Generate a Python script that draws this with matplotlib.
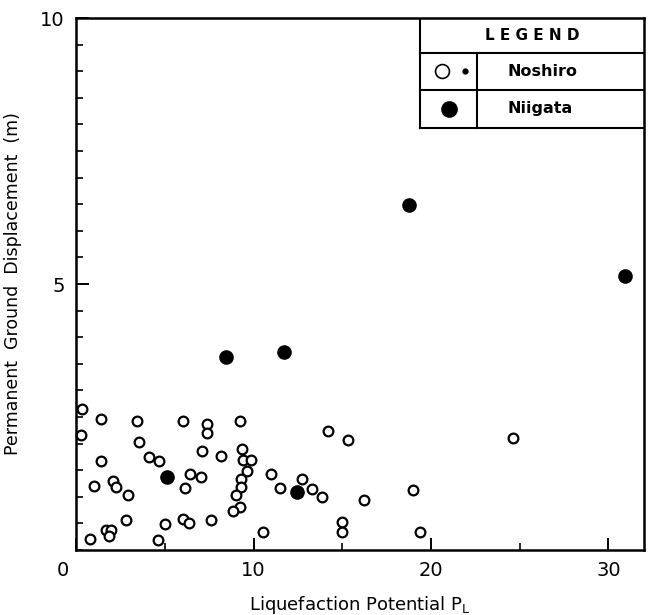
import matplotlib
matplotlib.use("Agg")
import matplotlib.pyplot as plt
from matplotlib.ticker import MultipleLocator
from matplotlib.transforms import ScaledTranslation

# Noshiro sites: liquefaction potential vs. permanent ground displacement (m)
noshiro_pl = [0.32, 1.41, 3.43, 6.04, 0.28, 3.53, 4.12, 4.69, 1.41, 6.40,
              1.03, 2.10, 2.25, 6.13, 2.91, 2.80, 1.67, 1.97, 1.86, 0.79,
              5.01, 6.04, 6.36, 4.63,
              7.39, 7.36, 9.23, 7.07, 8.16, 9.34, 9.41, 9.85, 9.66, 7.03,
              9.32, 9.32, 9.04, 10.97, 12.72, 11.52, 13.30, 9.25, 8.82, 7.58,
              10.52,
              14.20, 15.32, 13.88, 16.21, 19.00, 14.99, 14.99, 19.38,
              24.61]
noshiro_disp = [2.645, 2.46, 2.43, 2.43, 2.16, 2.03, 1.75, 1.67, 1.68, 1.42,
                1.21, 1.30, 1.19, 1.17, 1.04, 0.56, 0.37, 0.38, 0.26, 0.21,
                0.49, 0.58, 0.50, 0.18,
                2.37, 2.20, 2.42, 1.86, 1.77, 1.90, 1.69, 1.69, 1.48, 1.37,
                1.33, 1.18, 1.04, 1.43, 1.33, 1.16, 1.14, 0.80, 0.74, 0.56,
                0.34,
                2.24, 2.06, 0.99, 0.94, 1.12, 0.53, 0.33, 0.33,
                2.10]

# Niigata sites
niigata_pl = [5.10, 12.45, 8.44, 11.69, 18.74, 30.95]
niigata_disp = [1.37, 1.09, 3.62, 3.73, 6.49, 5.15]

x_ticks = [0, 10, 20, 30]
y_ticks = [5, 10]
legend_title = "L E G E N D"
legend_names = ["Noshiro", "Niigata"]

plt.rcParams["font.family"] = ["DejaVu Sans"]

fig = plt.figure(figsize=(6.52, 6.15), dpi=100)
ax = fig.add_axes([0.1166, 0.1057, 0.8711, 0.8650])

ax.plot(noshiro_pl, noshiro_disp, linestyle="none", marker="o", ms=7.0,
        mfc="white", mec="black", mew=1.6, clip_on=False)
ax.plot(niigata_pl, niigata_disp, linestyle="none", marker="o", ms=9.5,
        mfc="black", mec="black", clip_on=False)

ax.set_xlim(0, 32)
ax.set_ylim(0, 10)
ax.set_xticks(x_ticks)
ax.set_yticks(y_ticks)
ax.set_yticklabels([str(v) for v in y_ticks])
ax.xaxis.set_minor_locator(MultipleLocator(5))
ax.yaxis.set_minor_locator(MultipleLocator(0.5))
ax.tick_params(axis="both", which="major", direction="in", length=9,
               width=1.4, labelsize=14, pad=8)
ax.tick_params(axis="both", which="minor", direction="in", length=5,
               width=1.2)
ax.tick_params(axis="x", which="both", top=False)
ax.tick_params(axis="y", which="both", right=False)
for s in ax.spines.values():
    s.set_linewidth(1.8)

# The origin label sits a little left of the corner
fig.canvas.draw()
zero_lbl = ax.get_xticklabels()[0]
zero_lbl.set_transform(zero_lbl.get_transform() +
                       ScaledTranslation(-0.13, 0, fig.dpi_scale_trans))

ax.set_xlabel("Liquefaction Potential P$_\\mathregular{L}$", fontsize=13,
              labelpad=10)
ax.set_ylabel("Permanent  Ground  Displacement  (m)", fontsize=12.5,
              labelpad=20)
ax.yaxis.set_label_coords(-0.095, 0.5)

# Legend drawn as a ruled table in the upper-right corner
x0, xd, x1 = 0.6056, 0.706, 1.0
y_top, y_r1, y_r2, y_bot = 1.0, 0.934, 0.865, 0.793
tr = ax.transAxes
lw = 1.5
ax.plot([x0, x0], [y_top, y_bot], transform=tr, color="black", lw=lw)
ax.plot([x0, x1], [y_bot, y_bot], transform=tr, color="black", lw=lw)
ax.plot([x0, x1], [y_r1, y_r1], transform=tr, color="black", lw=lw)
ax.plot([x0, x1], [y_r2, y_r2], transform=tr, color="black", lw=lw)
ax.plot([xd, xd], [y_r1, y_bot], transform=tr, color="black", lw=lw)

ax.text((x0 + x1) / 2, (y_top + y_r1) / 2, legend_title, transform=tr,
        ha="center", va="center", fontsize=11, fontweight="semibold")
row_mid = [(y_r1 + y_r2) / 2, (y_r2 + y_bot) / 2]
ax.plot([0.645], [row_mid[0]], transform=tr, marker="o", ms=10,
        mfc="white", mec="black", mew=1.2)
ax.plot([0.685], [row_mid[0]], transform=tr, marker="o", ms=3.5,
        mfc="black", mec="black")
ax.plot([0.656], [row_mid[1]], transform=tr, marker="o", ms=11,
        mfc="black", mec="black")
for name, ym in zip(legend_names, row_mid):
    ax.text(0.76, ym, name, transform=tr, ha="left", va="center",
            fontsize=11.5, fontweight="semibold")

fig.savefig("out.png", dpi=100)
